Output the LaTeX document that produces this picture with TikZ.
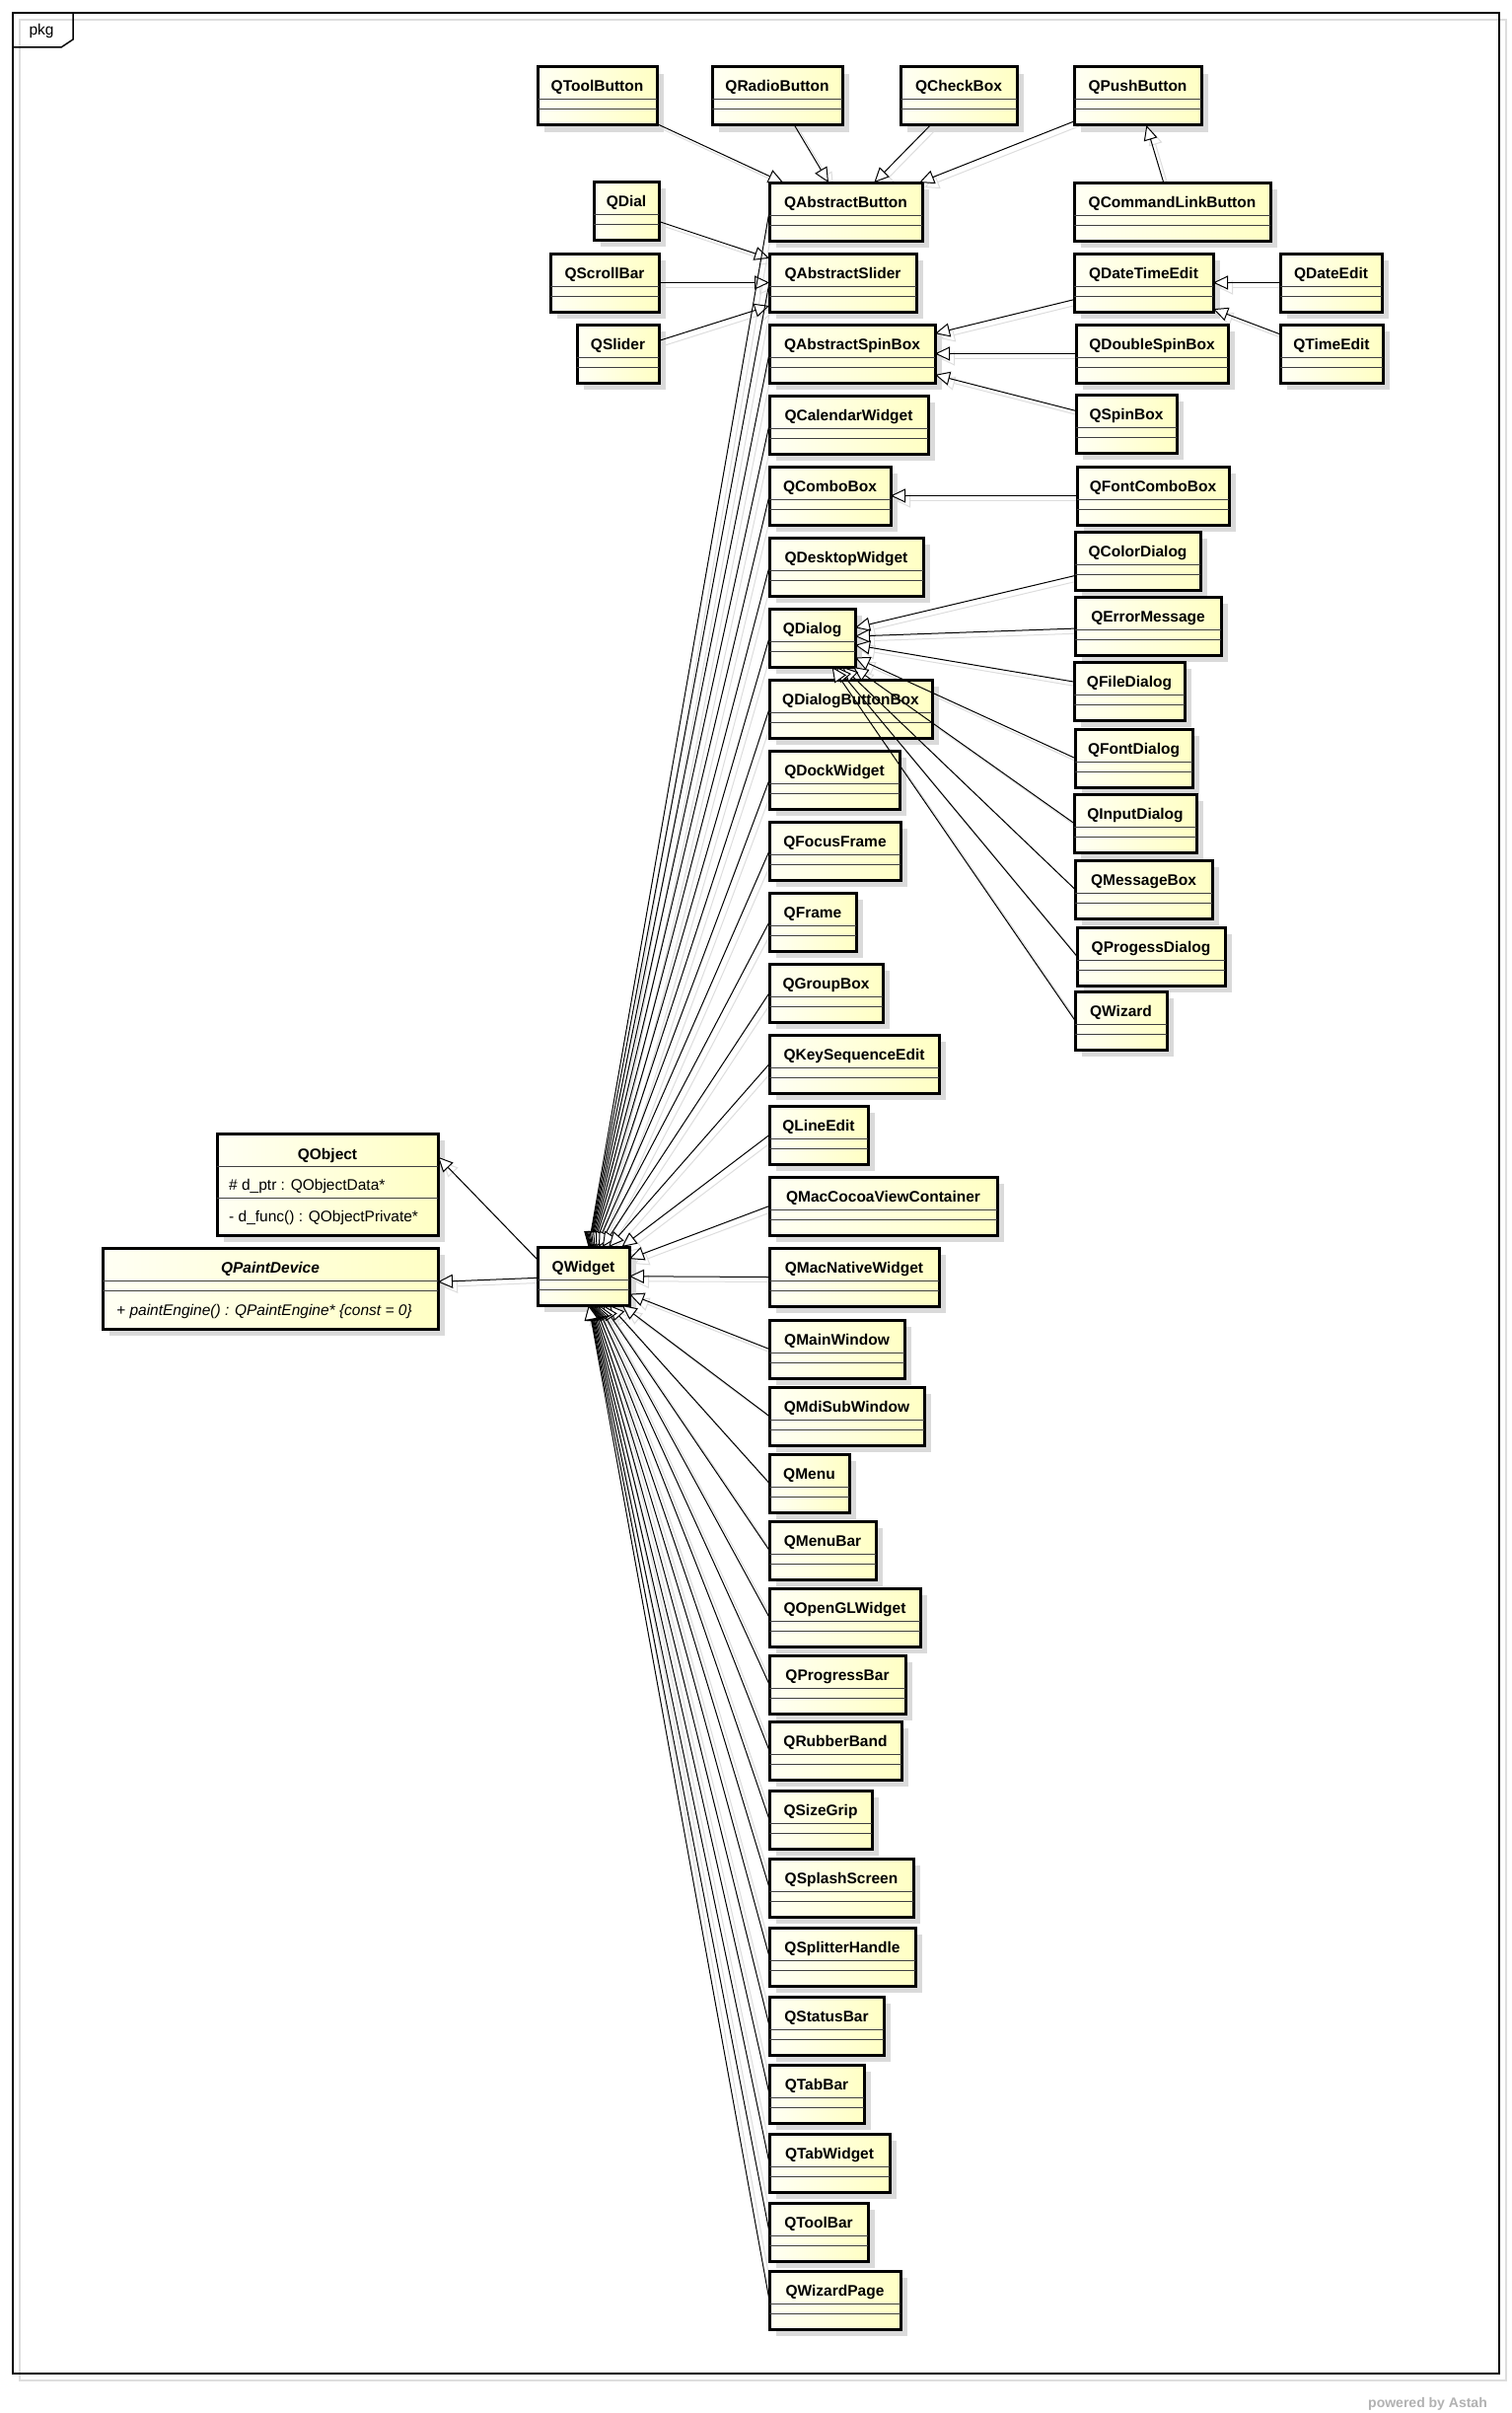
\documentclass[tikz,border=0pt]{standalone}
\usepackage{fontspec}
\setmainfont{Liberation Sans}
\usetikzlibrary{arrows.meta,calc}
\pgfdeclarelayer{shadow}
\pgfdeclarelayer{front}
\pgfsetlayers{shadow,main,front}
\definecolor{fillL}{HTML}{FFFFF4}
\definecolor{fillR}{HTML}{FFFFC4}
\definecolor{boxshade}{HTML}{DADADA}
\definecolor{lineshade}{HTML}{DDDDDD}
\definecolor{sepc}{HTML}{404040}
\tikzset{
  cbox/.style={rectangle, draw=black, line width=3pt, left color=fillL, right color=fillR, inner sep=0pt, outer sep=0pt},
  cname/.style={font=\bfseries\fontsize{15.5}{18}\selectfont, inner sep=0pt, anchor=base},
  ctext/.style={font=\fontsize{15.5}{18}\selectfont, inner sep=0pt, anchor=base west},
  csep/.style={draw=sepc, line width=1pt},
  gen/.style={draw=black, line width=1pt, -{Triangle[fill=white, length=15pt, width=14pt]}},
  genshadow/.style={draw=lineshade, line width=1pt, -{Triangle[open, length=15pt, width=14pt]}},
}
\newcommand\umlclass[5]{%
  \begin{pgfonlayer}{shadow}
    \fill[boxshade] (#2+7,#3+7) rectangle (#4+7,#3+66);
  \end{pgfonlayer}
  \node[cbox, anchor=north west, minimum width=#4-#2, minimum height=59] (#1) at (#2,#3) {};
  \draw[csep] (#2,#3+33) -- (#4,#3+33) (#2,#3+43) -- (#4,#3+43);
  \node[cname] (#1-l) at ({(#2+#4)/2},#3+25) {#5};
}
\newcommand\leftcol{QAbstractButton/185/935, QAbstractSlider/257/929, QAbstractSpinBox/329/948, QCalendarWidget/401/941, QComboBox/473/903, QDesktopWidget/545/936, QDialog/617/867, QDialogButtonBox/689/945, QDockWidget/761/912, QFocusFrame/833/913, QFrame/905/868, QGroupBox/977/895, QKeySequenceEdit/1049/952, QLineEdit/1121/880, QMacCocoaViewContainer/1193/1011, QMacNativeWidget/1265/952, QMainWindow/1338/917, QMdiSubWindow/1406/937, QMenu/1474/861, QMenuBar/1542/888, QOpenGLWidget/1610/933, QProgressBar/1678/918, QRubberBand/1745/914, QSizeGrip/1815/884, QSplashScreen/1884/926, QSplitterHandle/1954/928, QStatusBar/2024/896, QTabBar/2093/876, QTabWidget/2163/902, QToolBar/2233/880, QWizardPage/2302/913}
\newcommand\otherboxes{QToolButton/545/68/666, QRadioButton/722/68/854, QCheckBox/913/68/1031, QPushButton/1089/68/1218, QDial/602/184/668, QScrollBar/558/257/668, QSlider/585/329/668, QCommandLinkButton/1089/185/1288, QDateTimeEdit/1089/257/1230, QDateEdit/1298/257/1401, QDoubleSpinBox/1091/329/1245, QTimeEdit/1298/329/1402, QSpinBox/1091/400/1193, QFontComboBox/1092/473/1246, QColorDialog/1090/539/1217, QErrorMessage/1090/605/1238, QFileDialog/1089/671/1201, QFontDialog/1090/739/1209, QInputDialog/1089/805/1213, QMessageBox/1090/872/1229, QProgessDialog/1092/940/1242, QWizard/1090/1005/1183, QWidget/545/1264/638}
\newcommand\pairedges{QToolButton/QAbstractButton, QRadioButton/QAbstractButton, QCheckBox/QAbstractButton, QPushButton/QAbstractButton, QCommandLinkButton/QPushButton, QDial/QAbstractSlider, QScrollBar/QAbstractSlider, QSlider/QAbstractSlider, QDateTimeEdit/QAbstractSpinBox, QDoubleSpinBox/QAbstractSpinBox, QSpinBox/QAbstractSpinBox, QDateEdit/QDateTimeEdit, QTimeEdit/QDateTimeEdit, QFontComboBox/QComboBox, QColorDialog/QDialog, QErrorMessage/QDialog, QFileDialog/QDialog, QWidget/QPaintDevice}
\newcommand\dialogedges{QFontDialog, QInputDialog, QMessageBox, QProgessDialog, QWizard}
\begin{document}
\begin{tikzpicture}[x=1pt, y=-1pt]
\useasboundingbox (0,0) rectangle (1533,2446);
\begin{pgfonlayer}{shadow}
  \fill[white] (0,0) rectangle (1533,2446);
  \draw[lineshade, line width=1.5pt] (20,20) rectangle (1527,2413);
\end{pgfonlayer}
% package frame
\draw[line width=1.5pt] (13,13) rectangle (1520,2406);
\draw[line width=1.5pt] (74,13) -- (74,40) -- (62,48) -- (13,48);
\node[font=\fontsize{15.5}{18}\selectfont, inner sep=0pt, anchor=base] (pkg) at (42,36) {pkg};
% classes
\foreach \n/\y/\xr in \leftcol {\umlclass{\n}{780}{\y}{\xr}{\n}}
\foreach \n/\xl/\y/\xr in \otherboxes {\umlclass{\n}{\xl}{\y}{\xr}{\n}}
% QObject and QPaintDevice
\begin{pgfonlayer}{shadow}
  \fill[boxshade] (227,1156) rectangle (451,1259);
  \fill[boxshade] (111,1272) rectangle (451,1354);
\end{pgfonlayer}
\node[cbox, anchor=north west, minimum width=224, minimum height=103] (QObject) at (220,1149) {};
\draw[csep] (220,1182) -- (444,1182) (220,1214) -- (444,1214);
\node[cname] (QObject-l) at (332,1175) {QObject};
\node[ctext] (QObject-a) at (232,1206) {\# d\_ptr : QObjectData*};
\node[ctext] (QObject-o) at (232,1238) {- d\_func() : QObjectPrivate*};
\node[cbox, anchor=north west, minimum width=340, minimum height=82] (QPaintDevice) at (104,1265) {};
\draw[csep] (104,1298) -- (444,1298) (104,1308) -- (444,1308);
\node[cname, font=\bfseries\itshape\fontsize{15.5}{18}\selectfont] (QPaintDevice-l) at (274,1290) {QPaintDevice};
\node[ctext, font=\itshape\fontsize{15.5}{18}\selectfont] (QPaintDevice-o) at (118,1333) {+ paintEngine() : QPaintEngine* \{const = 0\}};
% connector shadows
\begin{pgfonlayer}{shadow}
\begin{scope}[transform canvas={shift={(5,5)}}]
  \foreach \s/\t in \pairedges {\draw[genshadow] (\s) -- (\t);}
  \foreach \s in \dialogedges {\draw[genshadow] (\s.west) -- (QDialog);}
  \foreach \s/\y/\xr in \leftcol {\draw[genshadow] (\s.west) -- (QWidget);}
  \draw[genshadow] ($(QWidget.north west)!0.22!(QWidget.south west)$) -- ($(QObject.north east)!0.23!(QObject.south east)$);
\end{scope}
\end{pgfonlayer}
% connectors
\begin{pgfonlayer}{front}
  \foreach \s/\t in \pairedges {\draw[gen] (\s) -- (\t);}
  \foreach \s in \dialogedges {\draw[gen] (\s.west) -- (QDialog);}
  \foreach \s/\y/\xr in \leftcol {\draw[gen] (\s.west) -- (QWidget);}
  \draw[gen] ($(QWidget.north west)!0.22!(QWidget.south west)$) -- ($(QObject.north east)!0.23!(QObject.south east)$);
\end{pgfonlayer}
% watermark
\node[font=\bfseries\fontsize{14}{16}\selectfont, text=black!30, inner sep=0pt, anchor=base east] (astah) at (1508,2440) {powered by Astah};
\end{tikzpicture}
\end{document}
